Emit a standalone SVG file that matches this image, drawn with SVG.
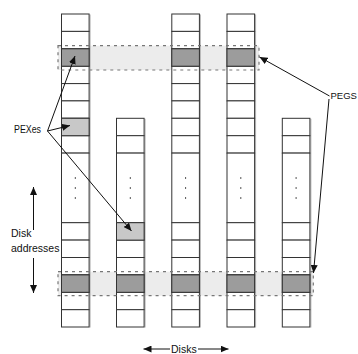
<svg xmlns="http://www.w3.org/2000/svg" width="358" height="354" viewBox="0 0 358 354">
<style>
.c{fill:#fff;stroke:#333;stroke-width:1}
.d{fill:#9c9c9c;stroke:#333;stroke-width:1}
.l{fill:#c8c8c8;stroke:#333;stroke-width:1}
.sh{stroke:#b4b4b4;stroke-width:1}
.dots{stroke:#555;stroke-width:1;stroke-dasharray:2 8}
.hf{fill:#ececec;stroke:none}
.hd{fill:none;stroke:#777;stroke-width:1.2;stroke-dasharray:3 4}
.t{font-family:"Liberation Sans",Arial,sans-serif;font-size:10.5px;fill:#111}
.a{stroke:#111;stroke-width:1;fill:none;marker-end:url(#ah)}
</style>
<defs>
<marker id="ah" markerUnits="userSpaceOnUse" markerWidth="9" markerHeight="7" refX="8" refY="3.5" orient="auto">
<path d="M0,0 L8,3.5 L0,7 z" fill="#111"/>
</marker>
<g id="tall">
<line class="sh" x1="28.6" y1="0.5" x2="28.6" y2="313.5"/>
<rect class="c" x="0" y="0" width="27.6" height="17.4"/>
<rect class="c" x="0" y="17.4" width="27.6" height="17.4"/>
<rect class="c" x="0" y="34.8" width="27.6" height="17.4"/>
<rect class="c" x="0" y="52.2" width="27.6" height="17.4"/>
<rect class="c" x="0" y="69.6" width="27.6" height="17.3"/>
<rect class="c" x="0" y="86.9" width="27.6" height="17.4"/>
<rect class="c" x="0" y="104.3" width="27.6" height="17.4"/>
<rect class="c" x="0" y="121.7" width="27.6" height="17.4"/>
<rect class="c" x="0" y="139.1" width="27.6" height="69.6"/>
<line class="dots" x1="13.8" y1="163" x2="13.8" y2="185"/>
<rect class="c" x="0" y="208.7" width="27.6" height="17.4"/>
<rect class="c" x="0" y="226.1" width="27.6" height="17.4"/>
<rect class="c" x="0" y="243.5" width="27.6" height="17.4"/>
<rect class="c" x="0" y="260.9" width="27.6" height="17.4"/>
<rect class="c" x="0" y="278.3" width="27.6" height="17.4"/>
<rect class="c" x="0" y="295.7" width="27.6" height="17.3"/>
</g>
<g id="short">
<line class="sh" x1="28.6" y1="104.8" x2="28.6" y2="313.5"/>
<rect class="c" x="0" y="104.3" width="27.6" height="17.4"/>
<rect class="c" x="0" y="121.7" width="27.6" height="17.4"/>
<rect class="c" x="0" y="139.1" width="27.6" height="69.6"/>
<line class="dots" x1="13.8" y1="163" x2="13.8" y2="185"/>
<rect class="c" x="0" y="208.7" width="27.6" height="17.4"/>
<rect class="c" x="0" y="226.1" width="27.6" height="17.4"/>
<rect class="c" x="0" y="243.5" width="27.6" height="17.4"/>
<rect class="c" x="0" y="260.9" width="27.6" height="17.4"/>
<rect class="c" x="0" y="278.3" width="27.6" height="17.4"/>
<rect class="c" x="0" y="295.7" width="27.6" height="17.3"/>
</g>
</defs>

<g id="highlights-fill">
<rect class="hf" x="58" y="45.7" width="201" height="24.3"/>
<rect class="hf" x="58" y="271.7" width="255.3" height="24"/>
</g>

<g id="disk1" transform="translate(61.5,14)">
<use href="#tall"/>
<rect class="d" x="0" y="34.8" width="27.6" height="17.4"/>
<rect class="l" x="0" y="104.3" width="27.6" height="17.4"/>
<rect class="d" x="0" y="260.9" width="27.6" height="17.4"/>
</g>
<g id="disk2" transform="translate(116.5,14)">
<use href="#short"/>
<rect class="l" x="0" y="208.7" width="27.6" height="17.4"/>
<rect class="d" x="0" y="260.9" width="27.6" height="17.4"/>
</g>
<g id="disk3" transform="translate(171.8,14)">
<use href="#tall"/>
<rect class="d" x="0" y="34.8" width="27.6" height="17.4"/>
<rect class="d" x="0" y="260.9" width="27.6" height="17.4"/>
</g>
<g id="disk4" transform="translate(227,14)">
<use href="#tall"/>
<rect class="d" x="0" y="34.8" width="27.6" height="17.4"/>
<rect class="d" x="0" y="260.9" width="27.6" height="17.4"/>
</g>
<g id="disk5" transform="translate(282.3,14)">
<use href="#short"/>
<rect class="d" x="0" y="260.9" width="27.6" height="17.4"/>
</g>

<g id="pegs-outline">
<rect class="hd" x="58" y="45.7" width="201" height="24.3"/>
<rect class="hd" x="58" y="271.7" width="255.3" height="24"/>
</g>

<g id="connectors">
<line class="a" x1="47.5" y1="131" x2="75" y2="56"/>
<line class="a" x1="47.5" y1="131" x2="70" y2="125.5"/>
<line class="a" x1="47.5" y1="131" x2="131.5" y2="231"/>
<line class="a" x1="329.5" y1="96" x2="259.5" y2="57"/>
<line class="a" x1="329" y1="99" x2="313.5" y2="273"/>
<line class="a" x1="33.5" y1="230" x2="33.5" y2="187"/>
<line class="a" x1="33.5" y1="258" x2="33.5" y2="293"/>
<line class="a" x1="170" y1="349" x2="143.5" y2="349"/>
<line class="a" x1="198" y1="349" x2="228.5" y2="349"/>
</g>

<g id="labels">
<text class="t" x="330.5" y="98.5" style="font-size:9.5px">PEGS</text>
<text class="t" x="14" y="133" textLength="27" lengthAdjust="spacingAndGlyphs">PEXes</text>
<text class="t" x="11" y="237">Disk</text>
<text class="t" x="11" y="252.3">addresses</text>
<text class="t" x="171" y="353">Disks</text>
</g>
</svg>
